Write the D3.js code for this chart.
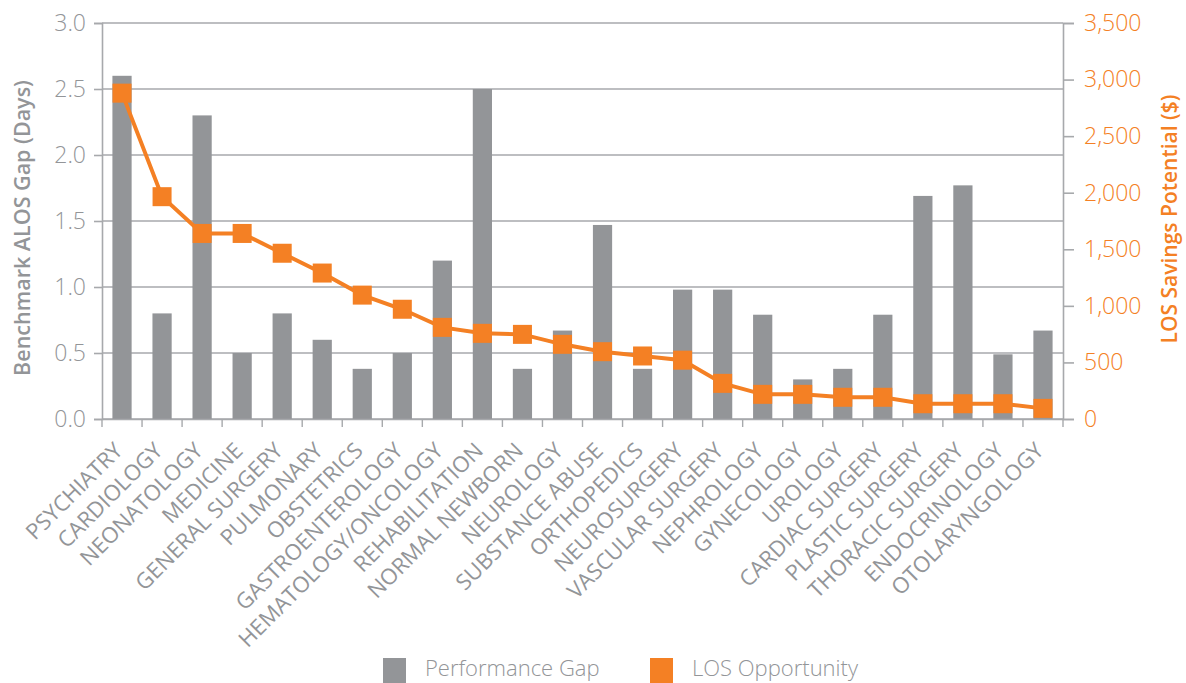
<!DOCTYPE html>
<html>
<head>
    <meta charset="utf-8">
    <title>LOS chart</title>
    <script src="https://d3js.org/d3.v7.min.js"></script>
    <style>
        body { margin: 0; background: #fff; }
        svg text { font-family: "Open Sans", sans-serif; }
    </style>
</head>
<body>
<script>
    // data
    var categories = ["PSYCHIATRY", "CARDIOLOGY", "NEONATOLOGY", "MEDICINE", "GENERAL SURGERY",
        "PULMONARY", "OBSTETRICS", "GASTROENTEROLOGY", "HEMATOLOGY/ONCOLOGY", "REHABILITATION",
        "NORMAL NEWBORN", "NEUROLOGY", "SUBSTANCE ABUSE", "ORTHOPEDICS", "NEUROSURGERY",
        "VASCULAR SURGERY", "NEPHROLOGY", "GYNECOLOGY", "UROLOGY", "CARDIAC SURGERY",
        "PLASTIC SURGERY", "THORACIC SURGERY", "ENDOCRINOLOGY", "OTOLARYNGOLOGY"];
    var performanceGap = [2.6, 0.8, 2.3, 0.5, 0.8, 0.6, 0.38, 0.5, 1.2, 2.5,
        0.38, 0.67, 1.47, 0.38, 0.98, 0.98, 0.79, 0.3, 0.38, 0.79,
        1.69, 1.77, 0.49, 0.67];
    var losOpportunity = [2880, 1965, 1640, 1640, 1465, 1290, 1095, 970, 810, 757,
        748, 660, 595, 557, 520, 315, 218, 218, 192, 192,
        135, 135, 135, 94];
    var leftTicks = [0, 0.5, 1.0, 1.5, 2.0, 2.5, 3.0];
    var rightTicks = [0, 500, 1000, 1500, 2000, 2500, 3000, 3500];

    var grey = "#939598", orange = "#f48024", gridCol = "#a7a9ac";

    var W = 1186, H = 683;
    var margin = {top: 23, right: 123, bottom: 264, left: 102},
        width = W - margin.left - margin.right,
        height = H - margin.top - margin.bottom;

    var svg = d3.select("body").append("svg")
        .attr("width", W)
        .attr("height", H);
    var g = svg.append("g")
        .attr("transform", "translate(" + margin.left + "," + margin.top + ")");

    var x = d3.scaleBand().domain(categories).range([0, width]).paddingInner(0.52).paddingOuter(0.26);
    var yL = d3.scaleLinear().domain([0, 3]).range([height, 0]);
    var yR = d3.scaleLinear().domain([0, 3500]).range([height, 0]);

    // gridlines
    g.append("g").selectAll("line")
        .data(leftTicks)
        .enter().append("line")
        .attr("x1", 0).attr("x2", width)
        .attr("y1", function(d) { return yL(d); })
        .attr("y2", function(d) { return yL(d); })
        .attr("stroke", gridCol)
        .attr("stroke-width", 1.4);

    // bars
    g.append("g").selectAll("rect")
        .data(performanceGap)
        .enter().append("rect")
        .attr("x", function(d, i) { return x(categories[i]); })
        .attr("y", function(d) { return yL(d); })
        .attr("width", x.bandwidth())
        .attr("height", function(d) { return height - yL(d); })
        .attr("fill", grey);

    // left axis
    var axL = g.append("g")
        .call(d3.axisLeft(yL).tickValues(leftTicks).tickFormat(d3.format(".1f")).tickSize(8).tickPadding(8));
    // right axis
    var axR = g.append("g")
        .attr("transform", "translate(" + width + ",0)")
        .call(d3.axisRight(yR).tickValues(rightTicks).tickFormat(d3.format(",")).tickSize(11).tickPadding(10));
    // bottom axis
    var step = x.step();
    var axB = g.append("g")
        .attr("transform", "translate(0," + height + ")")
        .call(d3.axisBottom(x).tickSize(0).tickFormat(""));
    axB.append("g").selectAll("line")
        .data(d3.range(categories.length + 1))
        .enter().append("line")
        .attr("x1", function(d) { return d * step; })
        .attr("x2", function(d) { return d * step; })
        .attr("y1", 0).attr("y2", 8)
        .attr("stroke", gridCol).attr("stroke-width", 1.4);

    [axL, axR, axB].forEach(function(a) {
        a.select(".domain").attr("stroke", gridCol).attr("stroke-width", 1.6);
        a.selectAll(".tick line").attr("stroke", gridCol).attr("stroke-width", 1.6);
    });
    axL.selectAll("text").attr("fill", grey).style("font-size", "23px").style("font-weight", 300);
    axR.selectAll("text").attr("fill", orange).style("font-size", "23px").style("font-weight", 300);

    // category labels
    g.append("g").selectAll("text")
        .data(categories)
        .enter().append("text")
        .attr("transform", function(d) {
            return "translate(" + (x(d) + x.bandwidth() / 2 + 2) + "," + (height + 33) + ") rotate(-45)";
        })
        .attr("text-anchor", "end")
        .attr("fill", grey)
        .style("font-size", "22px")
        .style("font-weight", 400)
        .text(function(d) { return d; });

    // line + markers
    var line = d3.line()
        .x(function(d, i) { return x(categories[i]) + x.bandwidth() / 2; })
        .y(function(d) { return yR(d); });
    g.append("path")
        .datum(losOpportunity)
        .attr("d", line)
        .attr("fill", "none")
        .attr("stroke", orange)
        .attr("stroke-width", 4);
    var ms = 19;
    g.append("g").selectAll("rect")
        .data(losOpportunity)
        .enter().append("rect")
        .attr("x", function(d, i) { return x(categories[i]) + x.bandwidth() / 2 - ms / 2; })
        .attr("y", function(d) { return yR(d) - ms / 2; })
        .attr("width", ms).attr("height", ms)
        .attr("fill", orange);

    // axis titles
    svg.append("text")
        .attr("transform", "translate(30,228) rotate(-90)")
        .attr("text-anchor", "middle")
        .attr("fill", grey)
        .style("font-size", "21.5px")
        .style("font-weight", 600)
        .text("Benchmark ALOS Gap (Days)");
    svg.append("text")
        .attr("transform", "translate(1177,219) rotate(-90)")
        .attr("text-anchor", "middle")
        .attr("fill", orange)
        .style("font-size", "21px")
        .style("font-weight", 600)
        .text("LOS Savings Potential ($)");

    // legend
    var legend = [
        {label: "Performance Gap", color: grey, x: 383},
        {label: "LOS Opportunity", color: orange, x: 650}
    ];
    var lg = svg.append("g");
    lg.selectAll("rect").data(legend).enter().append("rect")
        .attr("x", function(d) { return d.x; }).attr("y", 658)
        .attr("width", 23).attr("height", 26)
        .attr("fill", function(d) { return d.color; });
    lg.selectAll("text").data(legend).enter().append("text")
        .attr("x", function(d) { return d.x + 42; }).attr("y", 676)
        .attr("fill", grey)
        .style("font-size", "22px")
        .style("font-weight", 300)
        .text(function(d) { return d.label; });
</script>
</body>
</html>
